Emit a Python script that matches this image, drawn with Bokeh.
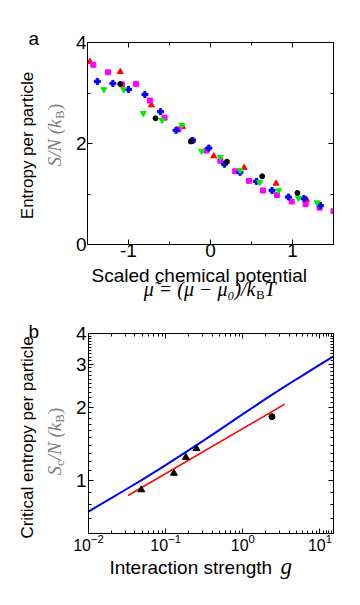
import math
from bokeh.plotting import figure
from bokeh.layouts import column, row
from bokeh.models import FixedTicker, LinearAxis, LogAxis, Range1d, CustomJSTickFormatter
from bokeh.core.properties import value
from bokeh.embed import file_html
from bokeh.resources import INLINE

# ---------------- Panel a data ----------------
red_mu = [-1.47, -1.10, -0.72, -0.34, 0.04, 0.41, 0.80, 1.17]
red_s = [3.62, 3.42, 2.76, 2.33, 1.75, 1.52, 1.21, 0.89]
mag_mu = [-1.43, -1.25, -1.08, -0.91, -0.74, -0.56, -0.39, -0.22, -0.05, 0.12, 0.30, 0.47,
          0.64, 0.81, 0.99, 1.16, 1.33, 1.50]
mag_s = [3.56, 3.41, 3.17, 3.18, 2.85, 2.51, 2.28, 2.06, 1.86, 1.66, 1.45, 1.26,
         1.07, 0.98, 0.85, 0.80, 0.73, 0.66]
blue_mu = [-1.38, -1.19, -1.00, -0.80, -0.61, -0.42, -0.22, -0.02, 0.17, 0.36, 0.56, 0.75,
           0.95, 1.14, 1.34]
blue_s = [3.23, 3.19, 3.07, 2.97, 2.63, 2.26, 2.06, 1.91, 1.59, 1.43, 1.25, 1.07,
          0.94, 0.91, 0.77]
green_mu = [-1.30, -1.06, -0.82, -0.59, -0.35, -0.11, 0.12, 0.36, 0.60, 0.83, 1.07, 1.30]
green_s = [3.07, 3.07, 2.60, 2.46, 2.36, 1.85, 1.73, 1.47, 1.23, 1.07, 0.92, 0.83]
black_mu = [-1.10, -0.67, -0.24, 0.20, 0.63, 1.06]
black_s = [3.18, 2.50, 2.04, 1.64, 1.35, 1.02]

a_xticks = [-1, 0, 1]
a_xminor = [-0.5, 0.5]
a_yticks = [0, 2, 4]
a_yminor = [1, 3]

# ---------------- Panel b data ----------------
g_theory = [0.01, 0.02, 0.0316, 0.05, 0.1, 0.2, 0.32, 0.5, 1, 2, 3.1, 5, 10, 15]
s_theory = [0.75, 0.853, 0.929, 1.012, 1.160, 1.336, 1.472, 1.617, 1.873, 2.167, 2.370,
            2.607, 2.985, 3.223]
g_fit = [0.0326, 3.5]
s_fit = [0.872, 2.06]
g_tri = [0.0483, 0.128, 0.183, 0.251]
s_tri = [0.92, 1.075, 1.248, 1.356]
g_dot = [2.39]
s_dot = [1.83]

b_xticks = [0.01, 0.1, 1, 10]
b_xkeys = ["0.01", "0.1", "1", "10"]
b_xlabels = ["10\u207b\u00b2", "10\u207b\u00b9", "10\u2070", "10\u00b9"]
b_xminor = [m * d for d in (0.01, 0.1, 1) for m in range(2, 10)] + [11, 12, 13, 14]
b_yticks = [1, 2, 3, 4]
b_yminor = [0.7, 0.8, 0.9] + [round(1 + 0.1 * i, 1) for i in range(1, 30) if i % 10 != 0]

SANS = "Liberation Sans"
SERIF = "Liberation Serif"
GREY = "#7f7f7f"
W = 360
LW = 72  # width of label strip on the left
LB = 86 - LW  # left border of the plots
K = 0.38  # empirical baseline correction (fraction of font size)


def style_axis(ax, size="19px", standoff=3):
    ax.axis_line_color = "black"
    ax.major_tick_in = 5
    ax.major_tick_out = 0
    ax.minor_tick_in = 3
    ax.minor_tick_out = 0
    ax.major_tick_line_color = "black"
    ax.minor_tick_line_color = "black"
    ax.major_label_text_font = SANS
    ax.major_label_text_font_size = size
    ax.major_label_text_color = "black"
    ax.major_label_standoff = standoff


def blank_axis(kind, ticker):
    ax = kind(ticker=ticker, formatter=CustomJSTickFormatter(code="return '';"))
    style_axis(ax, "1px", 0)
    return ax


class Strip:
    """A bare figure used only to hold text; positions given in page pixels."""

    def __init__(self, width, height, top):
        self.top, self.height = top, height
        self.fig = figure(width=width, height=height, x_range=Range1d(0, width),
                          y_range=Range1d(0, height), output_backend="svg",
                          toolbar_location=None, title=None, x_axis_location=None,
                          y_axis_location=None, min_border=0, min_border_left=0,
                          min_border_right=0, min_border_top=0, min_border_bottom=0,
                          frame_align=False)
        self.fig.outline_line_color = None
        self.fig.grid.visible = False

    def txt(self, x, y, s, size, font=SANS, style="normal", color="black", rotated=False,
            align="left"):
        """(x, y): page position of the baseline anchor."""
        fs = float(size.replace("px", ""))
        if rotated:
            x = x - K * fs
        else:
            y = y - K * fs
        yy = self.top + self.height - y
        self.fig.text(x=[x], y=[yy], text=[s], text_font=value(font),
                      text_font_size=value(size), text_font_style=style, text_color=color,
                      angle=(math.pi / 2 if rotated else 0.0), text_align=align,
                      text_baseline="alphabetic")


# ================= Panel a =================
H1 = 265
p1 = figure(width=W - LW, height=H1, x_range=Range1d(-1.5, 1.5), y_range=Range1d(0, 4),
            output_backend="svg", toolbar_location=None, title=None, frame_align=False,
            min_border_left=LB, min_border_right=27, min_border_top=42, min_border_bottom=21)
p1.grid.visible = False
p1.outline_line_color = "black"
p1.xaxis.ticker = FixedTicker(ticks=a_xticks, minor_ticks=a_xminor)
p1.yaxis.ticker = FixedTicker(ticks=a_yticks, minor_ticks=a_yminor)
p1.xaxis.major_label_overrides = {-1: "-1", 0: "0", 1: "1"}
for ax in p1.xaxis:
    style_axis(ax, "19px", -1)
for ax in p1.yaxis:
    style_axis(ax, "19px", 1)
p1.add_layout(blank_axis(LinearAxis, FixedTicker(ticks=a_xticks, minor_ticks=a_xminor)), "above")
p1.add_layout(blank_axis(LinearAxis, FixedTicker(ticks=a_yticks, minor_ticks=a_yminor)), "right")

p1.scatter(red_mu, red_s, marker="triangle", size=6, color="#ff0000")
p1.scatter(mag_mu, mag_s, marker="square", size=5, color="#ff00ff")
p1.scatter(blue_mu, blue_s, marker="plus", size=6, color="#0000ff")
p1.scatter(green_mu, green_s, marker="inverted_triangle", size=6, color="#00ee00")
p1.scatter(black_mu, black_s, marker="circle", size=5, color="black")

L1 = Strip(LW, H1, 0)
L1.txt(28, 45, "a", "19px")
L1.txt(33, 145, "Entropy per particle", "17px", rotated=True, align="center")
L1.txt(61, 119, "S/N (k", "19px", font=SERIF, style="italic", color=GREY, rotated=True,
       align="right")
L1.txt(64, 118.5, "B", "13px", font=SERIF, color=GREY, rotated=True)
L1.txt(61, 109.5, ")", "19px", font=SERIF, color=GREY, rotated=True)

Y1b = H1
B1 = Strip(W, 304 - Y1b, Y1b)
B1.txt(91, 282, "Scaled chemical potential", "19px")
B1.txt(255, 296, "\u03bc\u0303 = (\u03bc \u2212 \u03bc\u2080)/k", "20px", font=SERIF,
       style="italic", align="right")
B1.txt(255.5, 299, "B", "13px", font=SERIF)
B1.txt(264, 296, "T", "20px", font=SERIF, style="italic")

# ================= Panel b =================
Y2 = 304
H2 = 249
p2 = figure(width=W - LW, height=H2, x_axis_type="log", y_axis_type="log",
            x_range=Range1d(0.01, 15), y_range=Range1d(0.61, 4.0),
            output_backend="svg", toolbar_location=None, title=None, frame_align=False,
            min_border_left=LB, min_border_right=27, min_border_top=29, min_border_bottom=19)
p2.grid.visible = False
p2.outline_line_color = "black"
p2.xaxis.ticker = FixedTicker(ticks=b_xticks, minor_ticks=b_xminor)
p2.yaxis.ticker = FixedTicker(ticks=b_yticks, minor_ticks=b_yminor)
p2.xaxis.major_label_overrides = dict(zip(b_xkeys, b_xlabels))
p2.yaxis.major_label_overrides = {str(t): str(t) for t in b_yticks}
for ax in p2.xaxis:
    style_axis(ax, "16px", 0)
for ax in p2.yaxis:
    style_axis(ax, "19px", 2)
p2.add_layout(blank_axis(LogAxis, FixedTicker(ticks=b_xticks, minor_ticks=b_xminor)), "above")
p2.add_layout(blank_axis(LogAxis, FixedTicker(ticks=b_yticks, minor_ticks=b_yminor)), "right")

p2.line(g_theory, s_theory, line_color="#0000ff", line_width=2)
p2.line(g_fit, s_fit, line_color="#ff0000", line_width=1.5)
p2.scatter(g_tri, s_tri, marker="triangle", size=7, color="black")
p2.scatter(g_dot, s_dot, marker="circle", size=6, color="black")

L2 = Strip(LW, H2, Y2)
L2.txt(28, 338, "b", "19px")
L2.txt(33, 437, "Critical entropy per particle", "17px", rotated=True, align="center")
L2.txt(61, 465.5, "S", "19px", font=SERIF, style="italic", color=GREY, rotated=True,
       align="right")
L2.txt(64, 465.5, "c", "13px", font=SERIF, color=GREY, rotated=True)
L2.txt(61, 459.7, "/N (k", "19px", font=SERIF, style="italic", color=GREY, rotated=True)
L2.txt(64, 422.2, "B", "13px", font=SERIF, color=GREY, rotated=True)
L2.txt(61, 413.5, ")", "19px", font=SERIF, color=GREY, rotated=True)

Y3 = Y2 + H2
B2 = Strip(W, 605 - Y3, Y3)
B2.txt(109, 574, "Interaction strength", "19px")
B2.txt(280, 575, "g", "23px", font=SERIF, style="italic")

layout = column(row(L1.fig, p1), B1.fig, row(L2.fig, p2), B2.fig)
open("out.html", "w").write(file_html(layout, INLINE))
